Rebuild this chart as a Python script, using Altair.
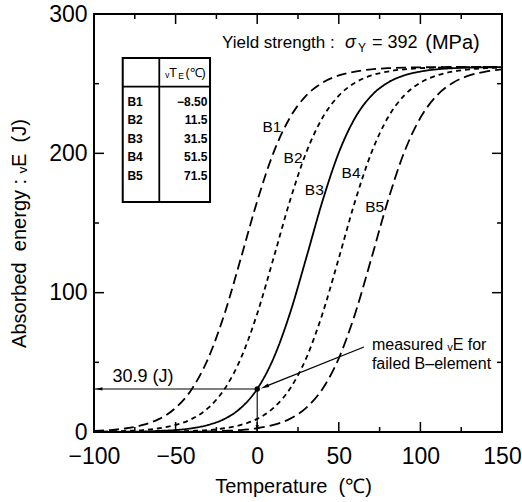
import altair as alt
import pandas as pd

# ---------------- data ----------------
temps = list(range(-100, 151, 10))
b1 = [0.8, 1.4, 2.7, 5.1, 9.4, 17.3, 30.9, 52.9, 84.9, 124.7, 165.7, 200.5, 225.5,
      241.4, 250.7, 255.9, 258.7, 260.3, 261.1, 261.5, 261.7, 261.9, 262.0, 262.0, 262.0, 262.0]
b2 = [0.2, 0.4, 0.8, 1.4, 2.7, 5.1, 9.4, 17.3, 30.9, 52.9, 84.9, 124.7, 165.7,
      200.5, 225.5, 241.4, 250.7, 255.9, 258.7, 260.3, 261.1, 261.5, 261.7, 261.9, 262.0, 262.0]
b3 = [0.05, 0.1, 0.2, 0.4, 0.8, 1.4, 2.7, 5.1, 9.4, 17.3, 30.9, 52.9, 84.9,
      124.7, 165.7, 200.5, 225.5, 241.4, 250.7, 255.9, 258.7, 260.3, 261.1, 261.5, 261.7, 261.9]
b4 = [0.0, 0.0, 0.05, 0.1, 0.2, 0.4, 0.8, 1.4, 2.7, 5.1, 9.4, 17.3, 30.9,
      52.9, 84.9, 124.7, 165.7, 200.5, 225.5, 241.4, 250.7, 255.9, 258.7, 260.3, 261.1, 261.5]
b5 = [0.0, 0.0, 0.0, 0.0, 0.05, 0.1, 0.2, 0.4, 0.8, 1.4, 2.7, 5.1, 9.4,
      17.3, 30.9, 52.9, 84.9, 124.7, 165.7, 200.5, 225.5, 241.4, 250.7, 255.9, 258.7, 260.3]
curve_names = ["B1", "B2", "B3", "B4", "B5"]
te_values = ["\u22128.50", "11.5", "31.5", "51.5", "71.5"]

# curve label positions (T, E)
label_T = [9.0, 22.0, 35.0, 57.5, 72.0]
label_E = [219.0, 197.0, 174.0, 186.0, 161.5]

x_labels = [-100, -50, 0, 50, 100, 150]
x_major_in = [-50, 0, 50, 100]
x_minor_in = [-75, -25, 25, 75, 125]
y_labels = [0, 100, 200, 300]
y_major_in = [100, 200]
y_minor_in = [50, 150, 250]

measured_T = 0.0
measured_E = 30.9

# table frame in data coordinates
table_T = [-82.4, -60.0, -28.9]   # left, divider, right
table_E = [268.5, 247.9, 165.0]   # top, header line, bottom
row_E = [237.1, 224.0, 210.3, 197.4, 183.8]

W, H = 408, 418
FONT = "Liberation Sans"
NB = "\u00a0"

xs = alt.Scale(domain=[-100, 150], nice=False, zero=False)
ys = alt.Scale(domain=[0, 300], nice=False, zero=True)

x_axis = alt.Axis(
    values=x_labels, ticks=False, domain=False, grid=False, labelFlush=False,
    labelFontSize=23, labelPadding=13, labelColor="black", labelFont=FONT,
    title="Temperature" + NB + NB + "(\u2103)", titleFontSize=20, titleFontWeight="normal",
    titleFont=FONT, titleColor="black", titleBaseline="alphabetic",
    titleX=199, titleY=60)
y_axis = alt.Axis(
    values=y_labels, ticks=False, domain=False, grid=False, labelFlush=False,
    labelFontSize=23, labelPadding=7, labelColor="black", labelFont=FONT,
    title="Absorbed" + NB + NB + "energy : \u1d65E" + NB + NB + "(J)", titleFontSize=20,
    titleFontWeight="normal", titleFont=FONT, titleColor="black",
    titleAngle=270, titleBaseline="alphabetic", titleAlign="center",
    titleX=-69, titleY=219)

rows = []
for name, vals in zip(curve_names, [b1, b2, b3, b4, b5]):
    for t, e in zip(temps, vals):
        rows.append({"T": t, "E": e, "curve": name})
curves_df = pd.DataFrame(rows)

dashes = [[10, 5], [5, 4], [1, 0], [5, 4], [11, 5]]


def xenc(field="T"):
    return alt.X(f"{field}:Q", scale=xs, axis=x_axis)


def yenc(field="E"):
    return alt.Y(f"{field}:Q", scale=ys, axis=y_axis)


curves = alt.Chart(curves_df).mark_line(
    color="black", strokeWidth=1.8, interpolate="monotone"
).encode(
    x=xenc(), y=yenc(),
    strokeDash=alt.StrokeDash("curve:N", scale=alt.Scale(domain=curve_names, range=dashes),
                              legend=None),
)


# inward ticks
def xticks(vals, length, top):
    df = pd.DataFrame({"T": vals})
    if top:
        return alt.Chart(df).mark_rule(color="black", strokeWidth=1.5).encode(
            x=xenc(), y=alt.value(0), y2=alt.value(length))
    return alt.Chart(df).mark_rule(color="black", strokeWidth=1.5).encode(
        x=xenc(), y=alt.value(H), y2=alt.value(H - length))


def yticks(vals, length, right):
    df = pd.DataFrame({"E": vals})
    if right:
        return alt.Chart(df).mark_rule(color="black", strokeWidth=1.5).encode(
            y=yenc(), x=alt.value(W), x2=alt.value(W - length))
    return alt.Chart(df).mark_rule(color="black", strokeWidth=1.5).encode(
        y=yenc(), x=alt.value(0), x2=alt.value(length))


ticks = [
    xticks(x_major_in, 10, False), xticks(x_minor_in, 5, False),
    xticks(x_major_in, 10, True), xticks(x_minor_in, 5, True),
    yticks(y_major_in, 10, False), yticks(y_minor_in, 5, False),
    yticks(y_major_in, 10, True), yticks(y_minor_in, 5, True),
]


def text_layer(T, E, labels, **kw):
    df = pd.DataFrame({"T": T, "E": E, "label": labels})
    base = dict(font=FONT, color="black", fill="black")
    base.update(kw)
    return alt.Chart(df).mark_text(**base).encode(x=xenc(), y=yenc(), text="label:N")


curve_labels = text_layer(label_T, label_E, curve_names, fontSize=15.5, align="center",
                          baseline="middle")

# table
table_box = alt.Chart(pd.DataFrame({"T": [table_T[0]], "T2": [table_T[2]],
                                    "E": [table_E[0]], "E2": [table_E[2]]})).mark_rect(
    fill="white", stroke="black", strokeWidth=2).encode(
    x=xenc(), x2="T2:Q", y=yenc(), y2="E2:Q")
table_div = alt.Chart(pd.DataFrame({"T": [table_T[1]], "E": [table_E[0]], "E2": [table_E[2]]})
                      ).mark_rule(color="black", strokeWidth=1.8).encode(
    x=xenc(), y=yenc(), y2="E2:Q")
table_hline = alt.Chart(pd.DataFrame({"T": [table_T[0]], "T2": [table_T[2]], "E": [table_E[1]]})
                        ).mark_rule(color="black", strokeWidth=1.8).encode(
    x=xenc(), x2="T2:Q", y=yenc())
table_names = text_layer([-79.5] * 5, row_E, curve_names, fontSize=12, fontWeight="bold",
                         align="left", baseline="middle")
table_vals = text_layer([-30.5] * 5, row_E, te_values, fontSize=12, fontWeight="bold",
                        align="right", baseline="middle")
table_head1 = text_layer([-56.3], [257.7], ["\u1d65T"], fontSize=12.5, align="left",
                         baseline="middle")
table_head2 = text_layer([-48.3], [255.5], ["E"], fontSize=8.5, align="left",
                         baseline="middle")
table_head3 = text_layer([-44.0], [257.7], ["(\u2103)"], fontSize=12.5, align="left",
                         baseline="middle")

# yield strength text
ys_text1 = text_layer([-21.6], [279.3], ["Yield strength :"], fontSize=17, align="left",
                      baseline="middle")
ys_sigma = text_layer([53.8], [279.3], ["\u03c3"], fontSize=18, fontStyle="italic",
                      align="left", baseline="middle")
ys_sub = text_layer([61.8], [275.5], ["Y"], fontSize=12, align="left", baseline="middle")
ys_text2 = text_layer([70.3], [279.3], ["=" + NB + "392"], fontSize=18, align="left",
                      baseline="middle")
ys_text3 = text_layer([103.0], [279.3], ["(MPa)"], fontSize=20, align="left",
                      baseline="middle")

# measured annotation
meas_text = text_layer([70.3, 70.3], [62.5, 48.8],
                       ["measured \u1d65E for", "failed B\u2013element"],
                       fontSize=16, align="left", baseline="middle")
val_text = text_layer([-70.0], [39.5], ["30.9 (J)"], fontSize=18, align="center",
                      baseline="middle")

hline = alt.Chart(pd.DataFrame({"T": [-100.0], "T2": [measured_T], "E": [measured_E]})
                  ).mark_rule(color="black", strokeWidth=1.1).encode(
    x=xenc(), x2="T2:Q", y=yenc())
vline = alt.Chart(pd.DataFrame({"T": [measured_T], "E": [measured_E], "E2": [0.0]})
                  ).mark_rule(color="black", strokeWidth=1.1).encode(
    x=xenc(), y=yenc(), y2="E2:Q")
diag = alt.Chart(pd.DataFrame({"T": [65.4], "T2": [5.2], "E": [61.0], "E2": [32.7]})
                 ).mark_rule(color="black", strokeWidth=1.3).encode(
    x=xenc(), x2="T2:Q", y=yenc(), y2="E2:Q")

arrow_path = "M0,-1L0.45,1L-0.45,1Z"
head_left = alt.Chart(pd.DataFrame({"T": [-97.0], "E": [measured_E]})).mark_point(
    shape=arrow_path, filled=True, color="black", opacity=1, size=50, angle=270).encode(
    x=xenc(), y=yenc())
head_down = alt.Chart(pd.DataFrame({"T": [measured_T], "E": [2.5]})).mark_point(
    shape=arrow_path, filled=True, color="black", opacity=1, size=50, angle=180).encode(
    x=xenc(), y=yenc())
head_diag = alt.Chart(pd.DataFrame({"T": [4.6], "E": [32.4]})).mark_point(
    shape=arrow_path, filled=True, color="black", opacity=1, size=70, angle=248).encode(
    x=xenc(), y=yenc())
dot = alt.Chart(pd.DataFrame({"T": [measured_T], "E": [measured_E]})).mark_point(
    shape="circle", filled=True, color="black", opacity=1, size=30).encode(
    x=xenc(), y=yenc())

chart = alt.layer(
    curves, *ticks, curve_labels,
    table_box, table_div, table_hline, table_names, table_vals,
    table_head1, table_head2, table_head3,
    ys_text1, ys_sigma, ys_sub, ys_text2, ys_text3,
    hline, vline, diag, head_left, head_down, head_diag, dot,
    meas_text, val_text,
).properties(
    width=W, height=H,
    padding={"left": 94, "top": 14, "right": 20, "bottom": 70},
    autosize=alt.AutoSizeParams(type="none"),
    background="white",
).configure(
    font=FONT
).configure_view(
    stroke="black", strokeWidth=2
)

chart.save("out.html", embed_options={"renderer": "svg", "actions": False})
